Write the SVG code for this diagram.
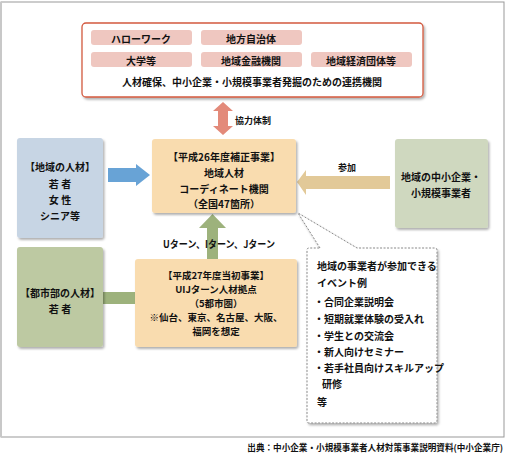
<svg xmlns="http://www.w3.org/2000/svg" width="506" height="454" viewBox="0 0 506 454">
<defs>
<filter id="sh" x="-10%" y="-10%" width="130%" height="130%">
<feDropShadow dx="1.5" dy="2" stdDeviation="1.2" flood-color="#000" flood-opacity="0.3"/>
</filter>
<style>
text{font-family:"Noto Sans CJK JP","Noto Sans",sans-serif;font-size:10px;font-weight:bold;fill:#111;text-anchor:middle;dominant-baseline:central}
.l{text-anchor:start}
.s{font-size:9.5px}
.tag{fill:#efc7c0}
.peach{fill:#f9dcaf}
</style>
</defs>
<rect x="1" y="2" width="503" height="435" fill="#fff" stroke="#999" stroke-width="1"/>
<rect x="0" y="2" width="2" height="435" fill="#c8c8c8"/>

<g id="partners">
<rect x="82" y="23" width="341" height="74" rx="4" fill="#fff" stroke="#d3593f" stroke-width="1.3" filter="url(#sh)"/>
<rect class="tag" x="91" y="30" width="101" height="15" rx="3"/>
<rect class="tag" x="201" y="30" width="101" height="15" rx="3"/>
<rect class="tag" x="91" y="52" width="101" height="15" rx="3"/>
<rect class="tag" x="201" y="52" width="101" height="15" rx="3"/>
<rect class="tag" x="311" y="52" width="101" height="15" rx="3"/>
<text x="141" y="38">ハローワーク</text>
<text x="251" y="38">地方自治体</text>
<text x="141" y="60">大学等</text>
<text x="251" y="60">地域金融機関</text>
<text x="361" y="60">地域経済団体等</text>
<text x="252" y="81">人材確保、中小企業・小規模事業者発掘のための連携機関</text>
</g>

<g id="connectors">
<polygon points="223,102 233,111 228,111 228,126 233,126 223,135 213,126 218,126 218,111 213,111" fill="#e38a7a"/>
<text class="l" x="235" y="120" style="font-size:9px">協力体制</text>
<polygon points="108,168 136,168 136,164 150,175 136,186 136,182 108,182" fill="#68a3d6"/>
<polygon points="390,176 306,176 306,170 297,182 306,195 306,189 390,189" fill="#e2c998"/>
<text x="347" y="167" style="font-size:9px">参加</text>
<rect x="103" y="292" width="33" height="12" fill="#9db27c"/>
<polygon points="207,259 207,228 199,228 212.5,214 226,228 218,228 218,259" fill="#9db27c"/>
<text x="219" y="243" textLength="112" lengthAdjust="spacingAndGlyphs">Uターン、Iターン、Jターン</text>
</g>

<g id="coordinator">
<rect class="peach" x="152" y="139" width="144" height="74" rx="3" filter="url(#sh)"/>
<text x="224" y="156">【平成26年度補正事業】</text>
<text x="224" y="172">地域人材</text>
<text x="224" y="188">コーディネート機関</text>
<text x="224" y="203">（全国47箇所）</text>
</g>

<g id="local-talent">
<rect x="17" y="138" width="86" height="100" rx="3" fill="#c7d5e4" filter="url(#sh)"/>
<text x="60" y="166">【地域の人材】</text>
<text x="60" y="183">若 者</text>
<text x="60" y="199">女 性</text>
<text x="60" y="215">シニア等</text>
</g>

<g id="sme">
<rect x="395" y="139" width="93" height="89" rx="3" fill="#cfd8bf" filter="url(#sh)"/>
<text x="441" y="176">地域の中小企業・</text>
<text x="441" y="192">小規模事業者</text>
</g>

<g id="urban-talent">
<rect x="17" y="247" width="86" height="100" rx="3" fill="#bdc9a2" filter="url(#sh)"/>
<text x="60" y="292">【都市部の人材】</text>
<text x="60" y="308">若 者</text>
</g>

<g id="uij">
<rect class="peach" x="135" y="259" width="162" height="88" rx="3" filter="url(#sh)"/>
<text class="s" x="216" y="275">【平成27年度当初事業】</text>
<text class="s" x="216" y="289">UIJターン人材拠点</text>
<text class="s" x="216" y="303">（5都市圏）</text>
<text class="s" x="216" y="317">※仙台、東京、名古屋、大阪、</text>
<text class="s" x="216" y="331">福岡を想定</text>
</g>

<g id="events">
<path d="M320,248 L298,213 L357,248 L435,248 Q437,248 437,250 L437,421 Q437,423 435,423 L309,423 Q307,423 307,421 L307,250 Q307,248 309,248 Z" fill="#fff" stroke="#888" stroke-width="1" stroke-dasharray="2,1.5" filter="url(#sh)"/>
<text class="l" x="317" y="265">地域の事業者が参加できる</text>
<text class="l" x="317" y="282">イベント例</text>
<text class="l" x="314" y="301">・合同企業説明会</text>
<text class="l" x="314" y="318">・短期就業体験の受入れ</text>
<text class="l" x="314" y="335">・学生との交流会</text>
<text class="l" x="314" y="351">・新人向けセミナー</text>
<text class="l" x="314" y="367">・若手社員向けスキルアップ</text>
<text class="l" x="322" y="383">研修</text>
<text class="l" x="317" y="401">等</text>
</g>

<text x="503" y="447" style="text-anchor:end;font-size:8.6px">出典：中小企業・小規模事業者人材対策事業説明資料(中小企業庁)</text>
</svg>
